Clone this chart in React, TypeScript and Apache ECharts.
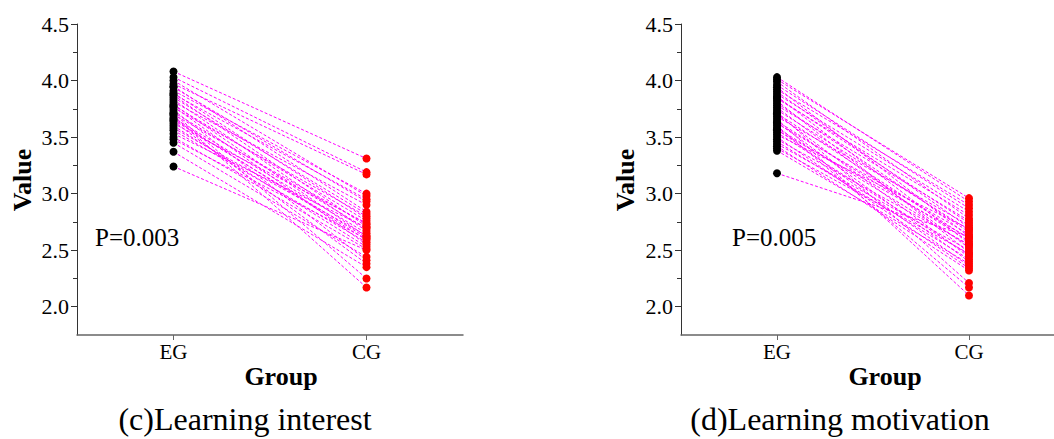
import React, { useEffect, useRef } from "react";
import * as echarts from "echarts";

const groups = ["EG", "CG"];
const yTicks = [2.0, 2.5, 3.0, 3.5, 4.0, 4.5];
const yMinor = [2.25, 2.75, 3.25, 3.75, 4.25];

// (c) Learning interest
const interestEG = [4.08, 4.03, 4.0, 3.97, 3.95, 3.94, 3.91, 3.89, 3.88, 3.87, 3.85, 3.83, 3.81, 3.79, 3.78, 3.77, 3.76, 3.74, 3.72, 3.71, 3.7, 3.69, 3.67, 3.66, 3.65, 3.64, 3.62, 3.6, 3.58, 3.56, 3.53, 3.5, 3.48, 3.45, 3.37, 3.24];
const interestCG = [3.31, 3.19, 2.98, 3.17, 2.84, 2.93, 3.0, 2.78, 2.95, 2.71, 2.82, 2.67, 2.9, 2.62, 2.76, 2.55, 2.8, 2.41, 2.69, 2.25, 2.73, 2.17, 2.65, 2.59, 2.61, 2.38, 2.74, 2.53, 2.63, 2.57, 2.7, 2.51, 2.6, 2.44, 2.35, 2.5];

// (d) Learning motivation
const motivationEG = [4.03, 4.01, 3.99, 3.96, 3.94, 3.92, 3.9, 3.88, 3.86, 3.85, 3.84, 3.82, 3.8, 3.78, 3.76, 3.74, 3.72, 3.71, 3.7, 3.68, 3.66, 3.64, 3.63, 3.62, 3.6, 3.58, 3.57, 3.56, 3.54, 3.52, 3.5, 3.48, 3.46, 3.44, 3.42, 3.4, 3.38, 3.18];
const motivationCG = [2.93, 2.96, 2.78, 2.87, 2.62, 2.9, 2.7, 2.84, 2.56, 2.74, 2.81, 2.48, 2.66, 2.76, 2.52, 2.68, 2.21, 2.6, 2.44, 2.72, 2.1, 2.58, 2.4, 2.64, 2.17, 2.54, 2.36, 2.61, 2.46, 2.69, 2.34, 2.55, 2.42, 2.5, 2.32, 2.47, 2.38, 2.62];

const titles = ["(c)Learning interest", "(d)Learning motivation"];
const pTexts = ["P=0.003", "P=0.005"];

const FONT = "Liberation Serif";

export default function App() {
  const ref = useRef<HTMLDivElement>(null);
  useEffect(() => {
    if (!ref.current) return;
    const chart = echarts.init(ref.current, undefined, { renderer: "svg" });
    const panels = [
      { eg: interestEG, cg: interestCG },
      { eg: motivationEG, cg: motivationCG },
    ];
    const xMax = [2.5, 0.5 + 373 / 192];
    const xAxes: any[] = [];
    const yAxes: any[] = [];
    const series: any[] = [];
    panels.forEach((p, i) => {
      xAxes.push({
        gridIndex: i,
        type: "value",
        min: 0.5,
        max: xMax[i],
        axisLine: { show: true, onZero: false, lineStyle: { color: "#666", width: 1.5 } },
        axisTick: { show: true, customValues: [1, 2], length: 5, lineStyle: { color: "#666" } },
        axisLabel: {
          customValues: [1, 2],
          formatter: (v: number) => groups[Math.round(v) - 1] || "",
          color: "#000",
          fontFamily: FONT,
          fontSize: 21,
          margin: 6,
        },
        splitLine: { show: false },
      });
      yAxes.push({
        gridIndex: i,
        type: "value",
        position: "left",
        min: 1.75,
        max: 4.5,
        axisLine: { show: true, onZero: false, lineStyle: { color: "#333", width: 1 } },
        axisTick: { show: true, customValues: yTicks, length: 6, lineStyle: { color: "#333" } },
        axisLabel: {
          customValues: yTicks,
          formatter: (v: number) => v.toFixed(1),
          color: "#000",
          fontFamily: FONT,
          fontSize: 22,
          margin: 8,
        },
        splitLine: { show: false },
      });
      yAxes.push({
        gridIndex: i,
        type: "value",
        position: "left",
        offset: 0,
        min: 1.75,
        max: 4.5,
        axisLine: { show: false, onZero: false },
        axisTick: { show: true, customValues: yMinor, length: 4, lineStyle: { color: "#333" } },
        axisLabel: { show: false },
        splitLine: { show: false },
      });
      p.eg.forEach((e, k) => {
        series.push({
          type: "line",
          xAxisIndex: i,
          yAxisIndex: i * 2,
          data: [
            [1, e],
            [2, p.cg[k]],
          ],
          symbol: "none",
          silent: true,
          lineStyle: { color: "#ff00ff", width: 1, type: [3, 2] },
          z: 2,
        });
      });
      series.push({
        type: "scatter",
        xAxisIndex: i,
        yAxisIndex: i * 2,
        data: p.eg.map((v) => [1, v]),
        symbolSize: 8,
        itemStyle: { color: "#000", opacity: 1 },
        z: 3,
      });
      series.push({
        type: "scatter",
        xAxisIndex: i,
        yAxisIndex: i * 2,
        data: p.cg.map((v) => [2, v]),
        symbolSize: 8,
        itemStyle: { color: "#ff0000", opacity: 1 },
        z: 3,
      });
    });

    const textStyle = (text: string, size: number, bold = false) => ({
      text,
      fill: "#000",
      fontFamily: FONT,
      fontSize: size,
      fontWeight: bold ? "bold" : "normal",
      align: "center",
      verticalAlign: "middle",
    });

    chart.setOption({
      animation: false,
      backgroundColor: "#fff",
      grid: [
        { left: 77, top: 24, width: 386, height: 311 },
        { left: 681, top: 24, width: 373, height: 311 },
      ],
      xAxis: xAxes,
      yAxis: yAxes,
      series,
      graphic: [
        { type: "text", x: 22, y: 180, rotation: Math.PI / 2, style: textStyle("Value", 26, true) },
        { type: "text", x: 625, y: 180, rotation: Math.PI / 2, style: textStyle("Value", 26, true) },
        { type: "text", x: 281, y: 376, style: textStyle("Group", 26, true) },
        { type: "text", x: 885, y: 376, style: textStyle("Group", 26, true) },
        { type: "text", x: 245, y: 419, style: textStyle(titles[0], 32) },
        { type: "text", x: 840, y: 419, style: textStyle(titles[1], 32) },
        { type: "text", x: 95, y: 237, style: { ...textStyle(pTexts[0], 25), align: "left" } },
        { type: "text", x: 732, y: 237, style: { ...textStyle(pTexts[1], 25), align: "left" } },
      ],
    });
    return () => chart.dispose();
  }, []);
  return (
    <div
      ref={ref}
      style={{ position: "absolute", left: 0, top: 0, width: 1054, height: 439, background: "#fff" }}
    />
  );
}
